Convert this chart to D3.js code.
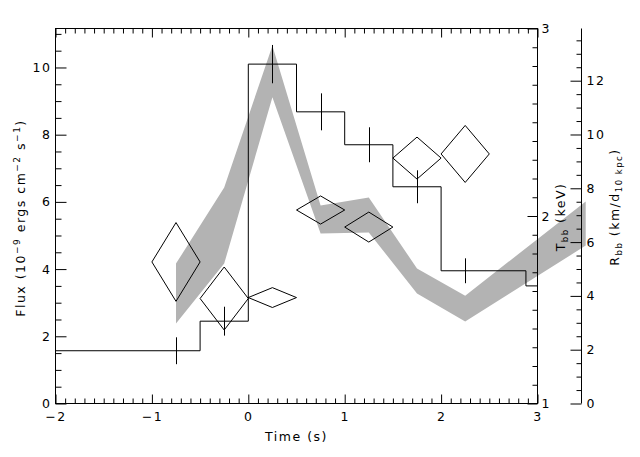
<!DOCTYPE html>
<html><head><meta charset="utf-8">
<script src="https://cdn.jsdelivr.net/npm/d3@7"></script>
<style>
body{margin:0;background:#fff}
text{font-family:"DejaVu Sans",sans-serif;font-size:12.5px;letter-spacing:1.5px;fill:#000}
</style></head><body>
<svg id="c" width="640" height="457"></svg>
<script>
// Flux light curve (histogram, left axis)
const fluxEdges = [-2, -0.5, 0, 0.5, 1, 1.5, 2, 2.88, 3];
const fluxValues = [1.57, 2.45, 10.1, 8.68, 7.7, 6.45, 3.95, 3.5];
const errTimes = [-0.75, -0.25, 0.25, 0.75, 1.25, 1.75, 2.25];
const errFlux = [1.57, 2.45, 10.1, 8.68, 7.7, 6.45, 3.95];
const errSize = [0.4, 0.43, 0.57, 0.55, 0.52, 0.49, 0.37];
// Blackbody temperature (diamonds, T axis)
const tempTimes = [-0.75, -0.25, 0.25, 0.75, 1.25, 1.75, 2.25];
const tempValues = [1.755, 1.56, 1.565, 2.032, 1.941, 2.309, 2.331];
const tempErr = [0.21, 0.168, 0.053, 0.075, 0.08, 0.112, 0.152];
const binHalf = 0.25;
// Blackbody radius (grey band, R axis)
const radTimes = [-0.75, -0.25, 0.25, 0.75, 1.25, 1.75, 2.25, 3.5];
const radLow = [2.97, 5.2, 11.38, 6.32, 6.36, 4.09, 3.05, 5.87];
const radHigh = [5.2, 8.03, 13.3, 7.36, 7.66, 5.02, 4.01, 7.51];
// Ticks
const xTicks = [-2, -1, 0, 1, 2, 3];
const fluxTicks = [0, 2, 4, 6, 8, 10];
const tempTicks = [1, 2, 3];
const radTicks = [0, 2, 4, 6, 8, 10, 12];

const svg = d3.select("#c");
const L = 55.5, R = 537.5, T = 28.5, B = 403.5, RA = 581.5;
const x = d3.scaleLinear([-2, 3], [L, R]);
const yF = d3.scaleLinear([0, 11.16], [B, T]);
const yT = d3.scaleLinear([1, 3], [B, T]);
const yR = d3.scaleLinear([0, 13.94], [B, T]);

// band
const band = radTimes.map((t, i) => ({t, lo: radLow[i], hi: radHigh[i]}));
svg.append("path").datum(band)
  .attr("d", d3.area().x(d => x(d.t)).y0(d => yR(d.lo)).y1(d => yR(d.hi)))
  .attr("fill", "#b3b3b3");

// step histogram
const stepPts = fluxEdges.map((e, i) => [e, fluxValues[Math.min(i, fluxValues.length - 1)]]);
svg.append("path").datum(stepPts)
  .attr("d", d3.line().x(d => x(d[0])).y(d => yF(d[1])).curve(d3.curveStepAfter))
  .attr("fill", "none").attr("stroke", "#000").attr("stroke-width", 1);

// error bars
svg.selectAll("line.err").data(errTimes).join("line").attr("class", "err")
  .attr("x1", (d) => Math.round(x(d)) + 0.5).attr("x2", (d) => Math.round(x(d)) + 0.5)
  .attr("y1", (d, i) => yF(errFlux[i] - errSize[i]))
  .attr("y2", (d, i) => yF(errFlux[i] + errSize[i]))
  .attr("stroke", "#000");

// diamonds
svg.selectAll("path.dia").data(tempTimes).join("path").attr("class", "dia")
  .attr("d", (t, i) => {
    const v = tempValues[i], e = tempErr[i];
    return "M" + x(t - binHalf) + "," + yT(v) + "L" + x(t) + "," + yT(v + e) +
      "L" + x(t + binHalf) + "," + yT(v) + "L" + x(t) + "," + yT(v - e) + "Z";
  })
  .attr("fill", "none").attr("stroke", "#000").attr("stroke-width", 1);

function clean(g) { g.select(".domain").remove(); g.selectAll("line").attr("stroke", "#000"); g.selectAll("text").attr("font-family", null).attr("font-size", null).attr("fill", "#000"); }
const range = (a, b, s) => d3.range(Math.round(a / s), Math.round(b / s) + 1).map(k => +(k * s).toFixed(3));

// bottom axis
const xMinor = range(-2, 3, 0.1).filter(v => !xTicks.includes(v));
svg.append("g").attr("transform", `translate(0,${B})`)
  .call(d3.axisBottom(x).tickValues(xMinor).tickSizeInner(-5).tickSizeOuter(0).tickFormat("")).call(clean);
svg.append("g").attr("transform", `translate(0,${B})`)
  .call(d3.axisBottom(x).tickValues(xTicks).tickSizeInner(-9).tickSizeOuter(0).tickPadding(8.5).tickFormat(d3.format("d"))).call(clean);
// top axis
svg.append("g").attr("transform", `translate(0,${T})`)
  .call(d3.axisTop(x).tickValues(xMinor).tickSizeInner(-5).tickSizeOuter(0).tickFormat("")).call(clean);
svg.append("g").attr("transform", `translate(0,${T})`)
  .call(d3.axisTop(x).tickValues(xTicks).tickSizeInner(-9).tickSizeOuter(0).tickFormat("")).call(clean);
// left flux axis
const fMinor = range(0, 11, 0.5).filter(v => !fluxTicks.includes(v));
svg.append("g").attr("transform", `translate(${L},0)`)
  .call(d3.axisLeft(yF).tickValues(fMinor).tickSizeInner(-6).tickSizeOuter(0).tickFormat("")).call(clean);
svg.append("g").attr("transform", `translate(${L},0)`)
  .call(d3.axisLeft(yF).tickValues(fluxTicks).tickSizeInner(-11).tickSizeOuter(0).tickPadding(4).tickFormat(d3.format("d"))).call(clean);
// right T axis
const tMinor = range(1, 3, 0.1).filter(v => !tempTicks.includes(v));
svg.append("g").attr("transform", `translate(${R},0)`)
  .call(d3.axisRight(yT).tickValues(tMinor).tickSizeInner(-5).tickSizeOuter(0).tickFormat("")).call(clean);
svg.append("g").attr("transform", `translate(${R},0)`)
  .call(d3.axisRight(yT).tickValues(tempTicks).tickSizeInner(-10).tickSizeOuter(0).tickPadding(4).tickFormat(d3.format("d"))).call(clean);
// R axis
const rMinor = range(0, 13.5, 0.5).filter(v => !radTicks.includes(v));
svg.append("g").attr("transform", `translate(${RA},0)`)
  .call(d3.axisRight(yR).tickValues(rMinor).tickSizeInner(-5).tickSizeOuter(0).tickFormat("")).call(clean);
svg.append("g").attr("transform", `translate(${RA},0)`)
  .call(d3.axisRight(yR).tickValues(radTicks).tickSizeInner(-11).tickSizeOuter(0).tickPadding(5).tickFormat(d3.format("d"))).call(clean);

// frame and R axis line
svg.append("rect").attr("x", L).attr("y", T).attr("width", R - L).attr("height", B - T)
  .attr("fill", "none").attr("stroke", "#000");
svg.append("line").attr("x1", RA).attr("x2", RA).attr("y1", T).attr("y2", B).attr("stroke", "#000");

// titles
svg.append("text").attr("x", (L + R) / 2).attr("y", 441).attr("text-anchor", "middle").text("Time (s)");

function rich(parts, tx, ty) {
  const t = svg.append("text").attr("text-anchor", "middle")
    .attr("transform", `translate(${tx},${ty}) rotate(-90)`);
  parts.forEach(p => {
    const s = t.append("tspan").text(p[0]);
    if (p[1] === "sup") s.attr("dy", -5).attr("font-size", "9px");
    else if (p[1] === "sub") s.attr("dy", 3).attr("font-size", "8.5px");
    if (p[2]) s.attr("dy", p[2]);
  });
  return t;
}
// Flux label
{
  const t = svg.append("text").attr("text-anchor", "middle")
    .attr("transform", "translate(25,218) rotate(-90)");
  t.append("tspan").text("Flux (10");
  t.append("tspan").attr("dy", -5).attr("font-size", "9px").text("−9");
  t.append("tspan").attr("dy", 5).text(" ergs cm");
  t.append("tspan").attr("dy", -5).attr("font-size", "9px").text("−2");
  t.append("tspan").attr("dy", 5).text(" s");
  t.append("tspan").attr("dy", -5).attr("font-size", "9px").text("−1");
  t.append("tspan").attr("dy", 5).text(")");
}
// T label
{
  const t = svg.append("text").attr("text-anchor", "middle")
    .attr("transform", "translate(565,217) rotate(-90)");
  t.append("tspan").text("T");
  t.append("tspan").attr("dy", 3).attr("font-size", "8.5px").text("bb");
  t.append("tspan").attr("dy", -3).text(" (keV)");
}
// R label
{
  const t = svg.append("text").attr("text-anchor", "middle")
    .attr("transform", "translate(619,207) rotate(-90)");
  t.append("tspan").text("R");
  t.append("tspan").attr("dy", 3).attr("font-size", "8.5px").text("bb");
  t.append("tspan").attr("dy", -3).text(" (km/d");
  t.append("tspan").attr("dy", 3).attr("font-size", "8.5px").text("10 kpc");
  t.append("tspan").attr("dy", -3).text(")");
}
</script>
</body></html>
